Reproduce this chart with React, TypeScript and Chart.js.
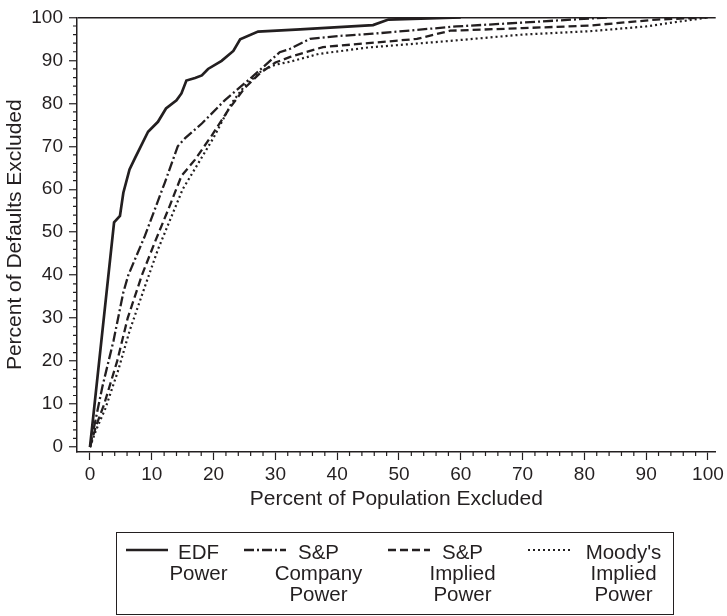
import React, { useEffect, useRef } from 'react';
import { Chart, registerables } from 'chart.js';

Chart.register(...registerables);

// ---- data (percent of population excluded -> percent of defaults excluded) ----
const edfX = [0, 3.9, 4.85, 5.4, 6.4, 7.3, 9.4, 11.0, 12.3, 14.0, 14.8, 15.6, 17.0, 18.1, 19.1, 21.3, 23.2, 24.3, 27.2, 34.0, 45.8, 48.3, 60.0];
const edfY = [0, 52.3, 53.8, 59.2, 64.6, 67.3, 73.4, 75.7, 78.8, 80.7, 82.3, 85.3, 85.9, 86.5, 88.0, 89.9, 92.2, 94.9, 96.7, 97.2, 98.2, 99.5, 100];

const spCompanyX = [0, 1, 2, 3.8, 5.4, 6.2, 8.9, 10.9, 12.1, 14.2, 15.4, 18.1, 21.8, 26.2, 30.7, 32.4, 35.6, 40.5, 45.8, 59.3, 70.1, 84.0];
const spCompanyY = [0, 7, 14, 24.7, 36.0, 40.0, 49.2, 56.9, 61.5, 70.0, 71.9, 75.3, 80.7, 86.1, 91.9, 92.7, 95.0, 95.7, 96.2, 97.9, 98.8, 100];

const spImpliedX = [0, 1, 2.3, 4.4, 6.1, 8.4, 10.5, 12.7, 14.8, 17.0, 19.7, 22.4, 25.0, 27.5, 30.0, 32.4, 37.7, 45.0, 52.9, 58.3, 70.0, 80.9, 91.7, 100];
const spImpliedY = [0, 5, 10, 20, 30, 40, 47.7, 55.4, 63.1, 66.9, 72.5, 78.5, 83.5, 87.0, 89.5, 90.8, 93.1, 94.0, 95.0, 96.9, 97.5, 98.1, 99.5, 100];

const moodysX = [0, 1, 2.5, 4.6, 6.4, 8.8, 11.0, 13.0, 15.0, 17.5, 20.0, 22.9, 25.0, 27.8, 30.0, 32.4, 37.0, 45.0, 58.0, 70.0, 81.0, 90.0, 100];
const moodysY = [0, 4, 9, 18, 27, 37, 46, 53, 60, 66, 72, 80, 84, 87.6, 89.0, 89.7, 91.5, 93.0, 94.5, 96.0, 96.8, 97.9, 100];

const xTickValues = [0, 10, 20, 30, 40, 50, 60, 70, 80, 90, 100];
const yTickValues = [0, 10, 20, 30, 40, 50, 60, 70, 80, 90, 100];
const minorStep = 2;

const seriesNames = ['EDF Power', 'S&P Company Power', 'S&P Implied Power', "Moody's Implied Power"];
const legendLines = [['EDF', 'Power'], ['S&P', 'Company', 'Power'], ['S&P', 'Implied', 'Power'], ["Moody's", 'Implied', 'Power']];

const xTitle = 'Percent of Population Excluded';
const yTitle = 'Percent of Defaults Excluded';

// ---- styles ----
const INK = '#231f20';
const FONT = "'Liberation Sans', Arial, Helvetica, sans-serif";
const dashes: number[][] = [[], [10, 3, 2, 3], [8, 4], [2, 3]];
const widths = [2.7, 2.3, 2.3, 2.2];
const TICK_SIZE = 19;
const TITLE_SIZE = 21;
const LEGEND_SIZE = 20.5;

const W = 727;
const H = 616;

const toPoints = (xs: number[], ys: number[]) => xs.map((x, i) => ({ x, y: ys[i] }));

const minorTicksPlugin = {
  id: 'minorTicks',
  afterDraw(chart: any) {
    const { ctx, scales } = chart;
    const xs = scales.x;
    const ys = scales.y;
    ctx.save();
    ctx.strokeStyle = INK;
    ctx.lineWidth = 1.2;
    ctx.beginPath();
    for (let v = minorStep; v < 100; v += minorStep) {
      if (v % 10 === 0) continue;
      const px = xs.getPixelForValue(v);
      ctx.moveTo(px, xs.top);
      ctx.lineTo(px, xs.top + 4);
      const py = ys.getPixelForValue(v);
      ctx.moveTo(ys.right, py);
      ctx.lineTo(ys.right - 4, py);
    }
    ctx.stroke();
    ctx.restore();
  },
};

function LegendSample({ dash, width }: { dash: number[]; width: number }) {
  return (
    <svg width={42} height={8} style={{ display: 'block' }}>
      <line x1={0} y1={4} x2={42} y2={4} stroke={INK} strokeWidth={width}
        strokeDasharray={dash.length ? dash.join(' ') : undefined} />
    </svg>
  );
}

const sampleLeft = [126, 244, 388, 528];
const textCenter = [199, 319, 463, 624];

export default function App() {
  const canvasRef = useRef<HTMLCanvasElement | null>(null);

  useEffect(() => {
    const canvas = canvasRef.current;
    if (!canvas) return;
    const xsArr = [edfX, spCompanyX, spImpliedX, moodysX];
    const ysArr = [edfY, spCompanyY, spImpliedY, moodysY];
    const xBottom = 499 + (TITLE_SIZE * 1.2) / 2;
    const chart = new Chart(canvas, {
      type: 'line',
      data: {
        datasets: seriesNames.map((name, i) => ({
          label: name,
          data: toPoints(xsArr[i], ysArr[i]),
          borderColor: INK,
          borderWidth: widths[i],
          borderDash: dashes[i],
          pointRadius: 0,
          fill: false,
          tension: 0,
        })),
      },
      options: {
        responsive: false,
        animation: false,
        devicePixelRatio: 1,
        layout: { padding: { left: 0, top: 13, right: W - 715.7, bottom: H - xBottom } },
        plugins: { legend: { display: false }, tooltip: { enabled: false } },
        scales: {
          x: {
            type: 'linear',
            min: -2.1,
            max: 101.25,
            afterBuildTicks: (s: any) => { s.ticks = xTickValues.map((v) => ({ value: v })); },
            afterFit: (s: any) => { s.height = xBottom - 452; },
            border: { display: true, color: INK, width: 1.5 },
            grid: { drawOnChartArea: false, drawTicks: true, tickLength: 8, tickColor: INK, tickWidth: 1.2 },
            ticks: { color: INK, font: { family: FONT, size: TICK_SIZE }, padding: 3, maxRotation: 0, autoSkip: false },
            title: { display: true, text: xTitle, color: INK, font: { family: FONT, size: TITLE_SIZE }, padding: { top: 0, bottom: 0 } },
          },
          y: {
            type: 'linear',
            min: -1.15,
            max: 100,
            afterBuildTicks: (s: any) => { s.ticks = yTickValues.map((v) => ({ value: v })); },
            afterFit: (s: any) => { s.width = 77; },
            border: { display: true, color: INK, width: 1.5 },
            grid: {
              drawOnChartArea: true,
              color: (c: any) => (c.tick && c.tick.value === 100 ? INK : 'rgba(0,0,0,0)'),
              lineWidth: 1.5,
              tickLength: 8,
              tickColor: INK,
              tickWidth: 1.2,
            },
            ticks: { color: INK, font: { family: FONT, size: TICK_SIZE }, padding: 6, autoSkip: false },
            title: { display: true, text: yTitle, color: INK, font: { family: FONT, size: TITLE_SIZE }, padding: { top: 2.9, bottom: 0 } },
          },
        },
      },
      plugins: [minorTicksPlugin],
    } as any);
    return () => chart.destroy();
  }, []);

  return (
    <div style={{ position: 'absolute', left: 0, top: 0, width: W, height: H, background: '#fff', overflow: 'hidden' }}>
      <canvas ref={canvasRef} width={W} height={H} style={{ position: 'absolute', left: 0, top: 0, width: W, height: H }} />
      <div style={{
        position: 'absolute', left: 116, top: 532, width: 558, height: 83,
        border: `1.5px solid ${INK}`, boxSizing: 'border-box',
        fontFamily: FONT, fontSize: LEGEND_SIZE, lineHeight: '21px', color: INK,
      }}>
        {legendLines.map((lines, i) => (
          <React.Fragment key={i}>
            <div style={{ position: 'absolute', left: sampleLeft[i] - 117.5, top: 550 - 533.5 - 4 }}>
              <LegendSample dash={dashes[i]} width={widths[i]} />
            </div>
            <div style={{
              position: 'absolute', left: textCenter[i] - 117.5 - 70, width: 140, top: 541.7 - 533.5,
              textAlign: 'center', whiteSpace: 'nowrap',
            }}>
              {lines.map((t, j) => <div key={j}>{t}</div>)}
            </div>
          </React.Fragment>
        ))}
      </div>
    </div>
  );
}
